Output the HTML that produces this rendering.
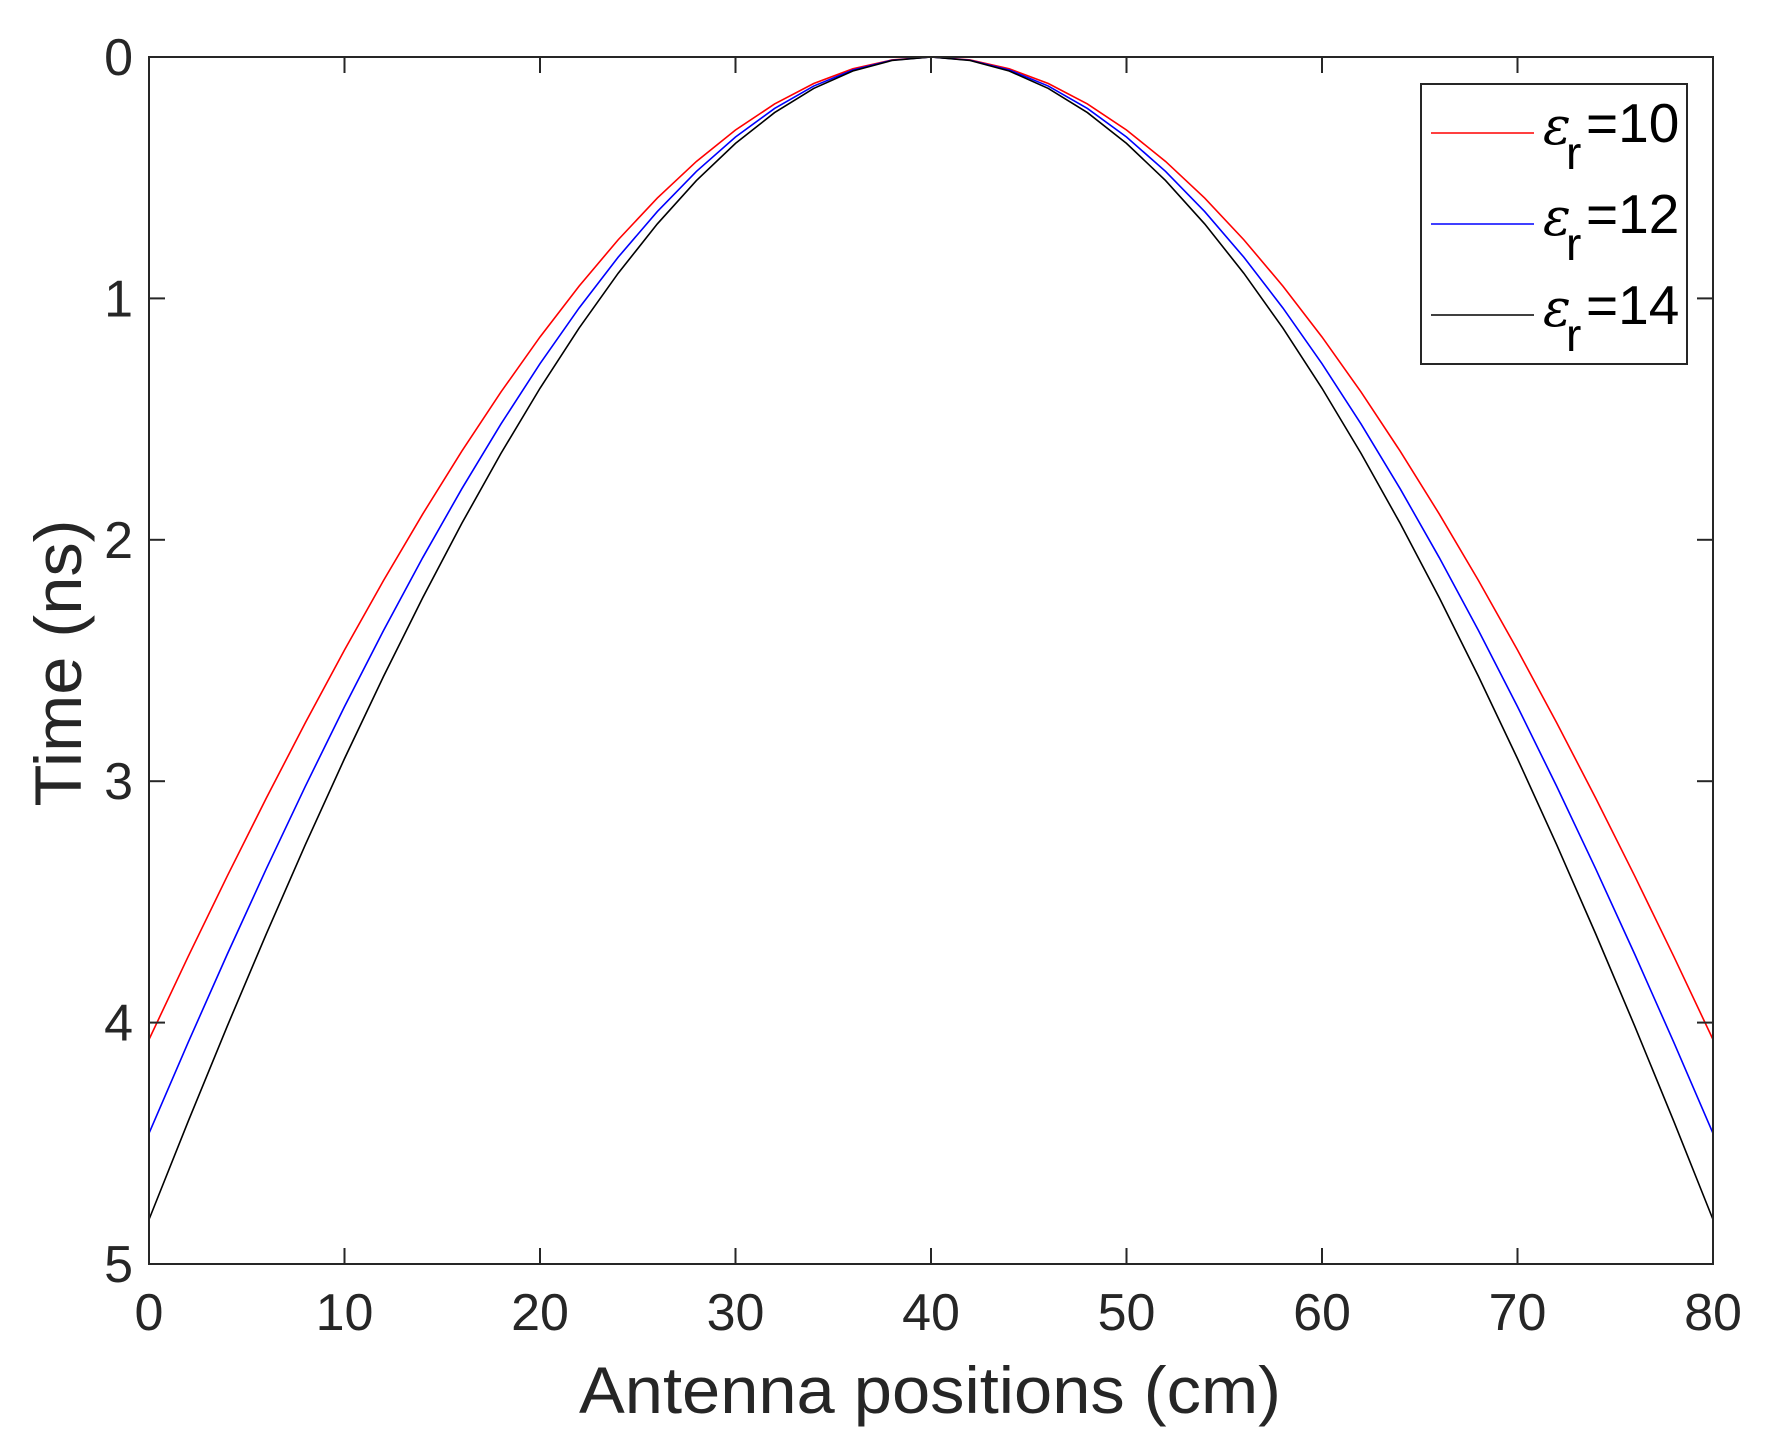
<!DOCTYPE html>
<html><head><meta charset="utf-8"><style>
html,body{margin:0;padding:0;background:#fff;}
svg{display:block;font-family:"Liberation Sans",Arial,sans-serif;}
</style></head><body>
<svg id="s" width="1772" height="1444" viewBox="0 0 1772 1444" xmlns="http://www.w3.org/2000/svg">
<rect width="1772" height="1444" fill="#fff"/>
<g id="curves" fill="none" stroke-width="1.6"></g>
<rect x="149" y="57" width="1564" height="1207" fill="none" stroke="#262626" stroke-width="2"/>
<g id="ticks" stroke="#262626" stroke-width="2"></g>
<g id="labels" fill="#262626" font-size="52"></g>
<text x="930" y="1413" text-anchor="middle" font-size="66" fill="#262626" textLength="702" lengthAdjust="spacingAndGlyphs">Antenna positions (cm)</text>
<text transform="translate(81,663) rotate(-90)" text-anchor="middle" font-size="66" fill="#262626" textLength="287" lengthAdjust="spacingAndGlyphs">Time (ns)</text>
<rect x="1421" y="84" width="266" height="280" fill="#fff" stroke="#262626" stroke-width="2"/>
<line x1="1431" y1="133" x2="1534" y2="133" stroke="#ff0000" stroke-width="1.6"/>
<line x1="1431" y1="224" x2="1534" y2="224" stroke="#0000ff" stroke-width="1.6"/>
<line x1="1431" y1="315" x2="1534" y2="315" stroke="#000" stroke-width="1.6"/>
<g fill="#000">
<text x="1543" y="144" font-size="52" font-family="DejaVu Serif,serif" font-style="italic">ε</text><text x="1566" y="169" font-size="46">r</text><text x="1586" y="142" font-size="55">=10</text>
<text x="1543" y="235" font-size="52" font-family="DejaVu Serif,serif" font-style="italic">ε</text><text x="1566" y="260" font-size="46">r</text><text x="1586" y="233" font-size="55">=12</text>
<text x="1543" y="326" font-size="52" font-family="DejaVu Serif,serif" font-style="italic">ε</text><text x="1566" y="351" font-size="46">r</text><text x="1586" y="324" font-size="55">=14</text>
</g>
</svg>
<script>
var ns="http://www.w3.org/2000/svg";
function X(v){return 149+v*1564/80;}
function Y(v){return 57+v*1207/5;}
var k=4.07/(Math.sqrt(10)*(Math.sqrt(3200)-40));
var cs=[[10,"#ff0000"],[12,"#0000ff"],[14,"#000000"]];
var g=document.getElementById("curves");
cs.forEach(function(c){
 var pts=[];
 for(var x=0;x<=80;x+=2){var d=x-40;var t=k*Math.sqrt(c[0])*(Math.sqrt(1600+d*d)-40);pts.push(X(x).toFixed(2)+","+Y(t).toFixed(2));}
 var p=document.createElementNS(ns,"polyline");p.setAttribute("points",pts.join(" "));p.setAttribute("stroke",c[1]);g.appendChild(p);
});
var tg=document.getElementById("ticks"),lg=document.getElementById("labels");
function ln(a,b,c,d){var l=document.createElementNS(ns,"line");l.setAttribute("x1",a);l.setAttribute("y1",b);l.setAttribute("x2",c);l.setAttribute("y2",d);tg.appendChild(l);}
function tx(x,y,s,anc){var t=document.createElementNS(ns,"text");t.setAttribute("x",x);t.setAttribute("y",y);t.setAttribute("text-anchor",anc);t.textContent=s;lg.appendChild(t);}
for(var i=0;i<=80;i+=10){var x=X(i);ln(x,1264,x,1248);ln(x,57,x,73);tx(x,1330,String(i),"middle");}
for(var j=0;j<=5;j++){var y=Y(j);ln(149,y,165,y);ln(1713,y,1697,y);tx(133,y+18,String(j),"end");}
</script>
</body></html>
